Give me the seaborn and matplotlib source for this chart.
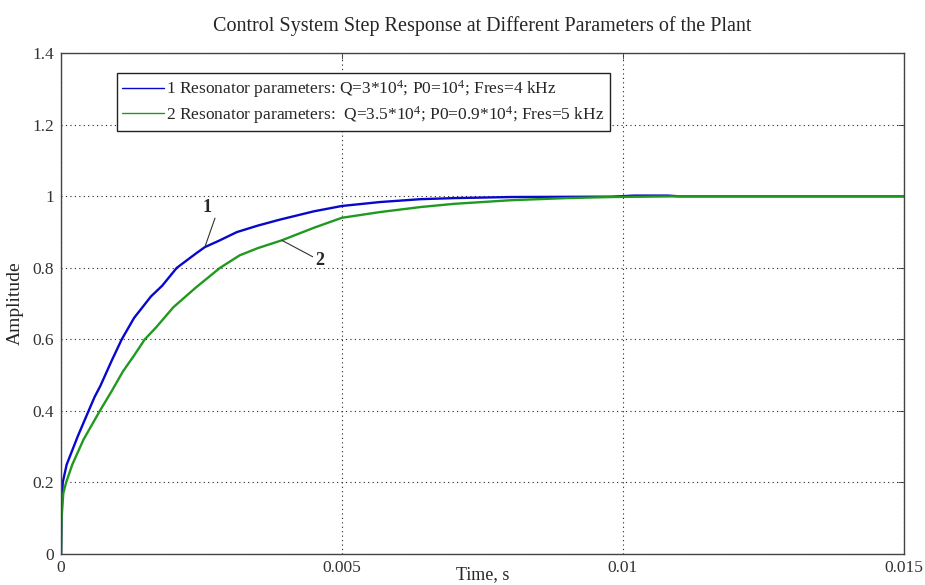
import numpy as np
import pandas as pd
import matplotlib
matplotlib.use("Agg")
import matplotlib.pyplot as plt
import seaborn as sns

# curve 1 (blue)
t_1 = [0, 0.00001, 0.00003, 0.0001, 0.0002, 0.0003, 0.00049, 0.0006, 0.0007,
       0.0009, 0.00108, 0.0013, 0.0016, 0.0018, 0.00206, 0.0024, 0.00256,
       0.0028, 0.00313, 0.0035, 0.0039, 0.0045, 0.005, 0.00568, 0.0064,
       0.007, 0.008, 0.0098, 0.0102, 0.0108, 0.011, 0.015]
amp_1 = [0, 0.12, 0.20, 0.25, 0.29, 0.33, 0.40, 0.44, 0.47,
         0.54, 0.60, 0.66, 0.72, 0.75, 0.80, 0.84, 0.858,
         0.875, 0.90, 0.918, 0.935, 0.958, 0.973, 0.984, 0.992,
         0.995, 0.998, 0.999, 1.002, 1.002, 1.0, 1.0]

# curve 2 (green)
t_2 = [0, 0.00001, 0.00004, 0.00009, 0.0002, 0.0004, 0.00069, 0.0009, 0.0011,
       0.0013, 0.00149, 0.0017, 0.002, 0.0024, 0.00283, 0.00318, 0.0035,
       0.00393, 0.0045, 0.005, 0.00568, 0.0064, 0.007, 0.008, 0.009,
       0.0098, 0.011, 0.015]
amp_2 = [0, 0.10, 0.17, 0.20, 0.25, 0.32, 0.40, 0.455, 0.51,
         0.555, 0.60, 0.635, 0.69, 0.745, 0.80, 0.835, 0.855,
         0.877, 0.912, 0.94, 0.956, 0.970, 0.979, 0.989, 0.995,
         0.998, 1.0, 1.0]

labels = ["1 Resonator parameters: Q=3*10$^4$; P0=10$^4$; Fres=4 kHz",
          "2 Resonator parameters:  Q=3.5*10$^4$; P0=0.9*10$^4$; Fres=5 kHz"]
colors = ["#0808cc", "#1f9a1f"]

x_ticks = [0, 0.005, 0.01, 0.015]
x_ticklabels = ["0", "0.005", "0.01", "0.015"]
y_ticks = [0, 0.2, 0.4, 0.6, 0.8, 1.0, 1.2, 1.4]
y_ticklabels = ["0", "0.2", "0.4", "0.6", "0.8", "1", "1.2", "1.4"]

sns.set_style("white")
plt.rcParams["font.family"] = ["Liberation Serif", "DejaVu Serif"]
plt.rcParams["mathtext.fontset"] = "custom"
plt.rcParams["mathtext.rm"] = "Liberation Serif"
plt.rcParams["mathtext.it"] = "Liberation Serif:italic"

df1 = pd.DataFrame({"t": t_1, "amp": amp_1})
df2 = pd.DataFrame({"t": t_2, "amp": amp_2})

fig = plt.figure(figsize=(9.25, 5.85), dpi=100)
ax = fig.add_axes([0.066, 0.053, 0.911, 0.856])

sns.lineplot(data=df1, x="t", y="amp", ax=ax, color=colors[0], lw=1.7,
             label=labels[0], estimator=None, sort=False)
sns.lineplot(data=df2, x="t", y="amp", ax=ax, color=colors[1], lw=1.7,
             label=labels[1], estimator=None, sort=False)

ax.set_xlim(0, 0.015)
ax.set_ylim(0, 1.4)
ax.set_xticks(x_ticks)
ax.set_xticklabels(x_ticklabels)
ax.set_yticks(y_ticks)
ax.set_yticklabels(y_ticklabels)
ax.tick_params(direction="in", length=4, width=0.6, labelsize=12.5,
               colors="#333333", top=True, right=True, pad=5)
ax.tick_params(axis="x", pad=4)
ax.grid(True, linestyle=(0, (1, 3)), color="#222222", lw=0.8)
for s in ax.spines.values():
    s.set_color("#444444")
    s.set_linewidth(1.0)

ax.set_xlabel("Time, s", fontsize=13)
ax.xaxis.set_label_coords(0.5, -0.042)
ax.xaxis.label.set_va("center")
ax.set_ylabel("Amplitude", fontsize=14, labelpad=6)
ax.set_title("Control System Step Response at Different Parameters of the Plant",
             fontsize=14.5, pad=16)

# curve numbers with leader lines
ax.annotate("", xy=(0.00256, 0.858), xytext=(0.00274, 0.939),
            arrowprops=dict(arrowstyle="-", color="#333333", lw=0.8,
                            shrinkA=0, shrinkB=0))
ax.text(0.00259, 0.970, "1", fontsize=13, fontweight="bold",
        ha="center", va="center")
ax.annotate("", xy=(0.00393, 0.877), xytext=(0.00448, 0.831),
            arrowprops=dict(arrowstyle="-", color="#333333", lw=0.8,
                            shrinkA=0, shrinkB=0))
ax.text(0.00461, 0.821, "2", fontsize=13, fontweight="bold",
        ha="center", va="center")

leg = ax.legend(loc="upper left", bbox_to_anchor=(0.0664, 0.960),
                borderaxespad=0, fontsize=12.5, frameon=True, fancybox=False,
                framealpha=1, edgecolor="#222222", handlelength=2.4,
                handletextpad=0.15, borderpad=0.3, labelspacing=0.2)
leg.get_frame().set_linewidth(1.0)
for h in leg.get_lines():
    h.set_linewidth(1.0)

fig.savefig("out.png", dpi=100)
